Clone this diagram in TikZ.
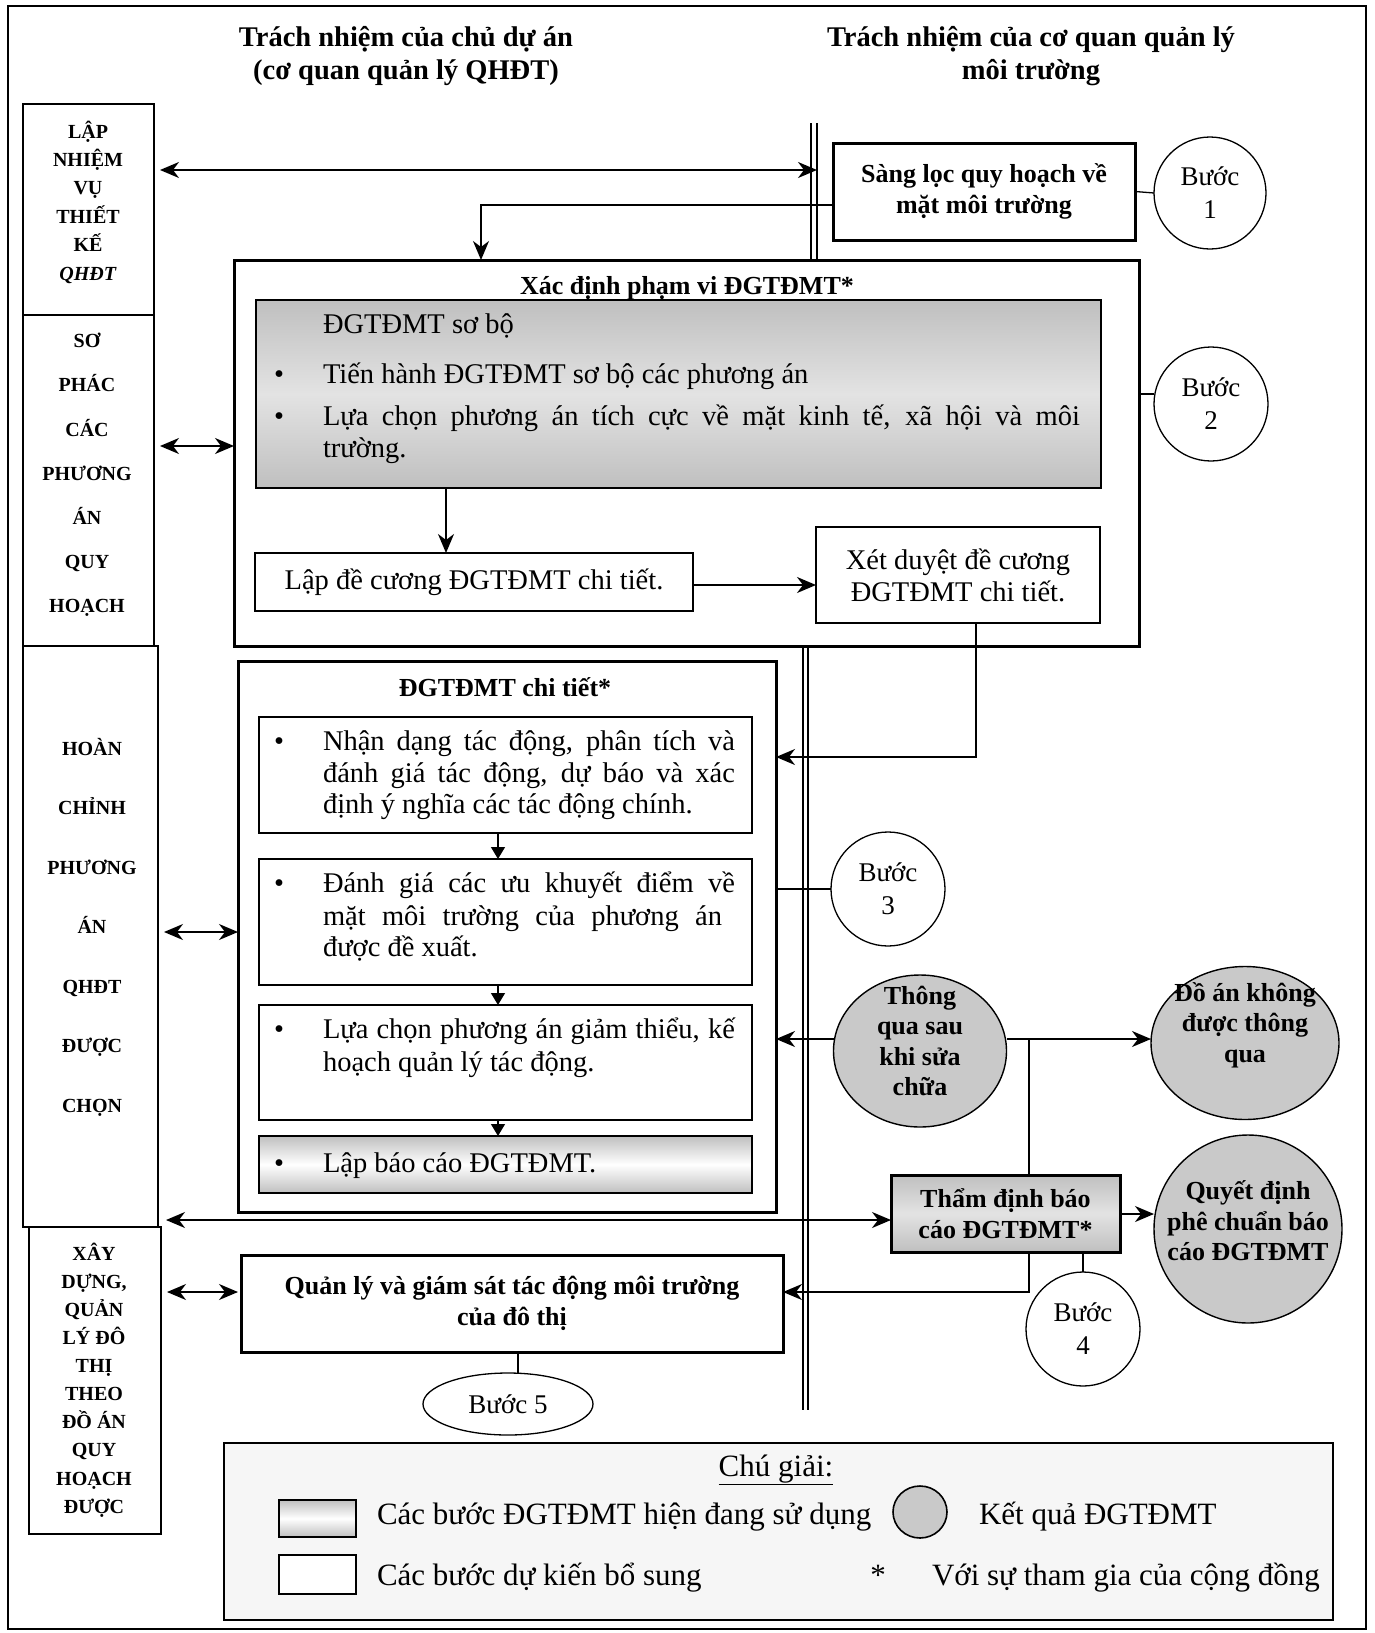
\documentclass[tikz,border=0pt]{standalone}
\usepackage{fontspec}
\setmainfont{Liberation Serif}
\usetikzlibrary{arrows.meta,shapes.geometric,calc}
\newcommand\bodyf{\fontsize{28.5}{32}\selectfont}
\newcommand\boldf{\fontsize{26}{31}\selectfont\bfseries}
\newcommand\hdrf{\fontsize{28.5}{33}\selectfont\bfseries}
\newcommand\stepf{\fontsize{27}{33}\selectfont}
\newcommand\legf{\fontsize{31}{36}\selectfont}
\begin{document}
\begin{tikzpicture}[x=1pt,y=-1pt,
  thinbox/.style={draw, line width=1.4pt, inner sep=0pt, outer sep=0pt},
  thickbox/.style={draw, line width=3pt, inner sep=0pt, outer sep=0pt},
  shadebox/.style={top color=gray!50, bottom color=gray!50, middle color=gray!22},
  lightshade/.style={top color=gray!50, bottom color=gray!50, middle color=white},
  result/.style={ellipse, draw, line width=1.4pt, fill=gray!42, inner sep=0pt, outer sep=0pt},
  stepc/.style={ellipse, draw, line width=1.3pt, inner sep=0pt, outer sep=0pt, align=center, font=\stepf},
  txt/.style={inner sep=0pt, outer sep=0pt},
  ltxt/.style={txt, anchor=base west, font=\bodyf},
  bul/.style={txt, anchor=base, font=\bodyf},
  coltxt/.style={txt, align=center},
  arr/.style={line width=1.7pt, -{Stealth[length=19pt,width=16pt,inset=6pt]}},
  darr/.style={line width=1.7pt, {Stealth[length=19pt,width=16pt,inset=6pt]}-{Stealth[length=19pt,width=16pt,inset=6pt]}},
  sarr/.style={line width=1.3pt, -{Triangle[length=12pt,width=14pt]}},
  conn/.style={line width=1.3pt}
]
\useasboundingbox (0,0) rectangle (1375,1633);
% outer frame
\draw[line width=2.5pt] (8,6) rectangle (1366,1629);

% headers
\node[txt, align=center, font=\hdrf] (hL) at (406,56) {Trách nhiệm của chủ dự án\\(cơ quan quản lý QHĐT)};
\node[txt, align=center, font=\hdrf] (hR) at (1031,56) {Trách nhiệm của cơ quan quản lý\\môi trường};

% left column
\node[thinbox, minimum width=131, minimum height=211] (A) at (88.5,209.5) {};
\node[coltxt, font={\fontsize{20}{28.4}\selectfont\bfseries}] (At) at (88,202) {LẬP\\NHIỆM\\VỤ\\THIẾT\\KẾ\\\textit{QHĐT}};
\node[thinbox, minimum width=131, minimum height=331] (B) at (88.5,480.5) {};
\node[coltxt, font={\fontsize{20}{44.2}\selectfont\bfseries}] (Bt) at (87,475) {SƠ\\PHÁC\\CÁC\\PHƯƠNG\\ÁN\\QUY\\HOẠCH};
\node[thinbox, minimum width=135, minimum height=581] (C) at (90.5,936.5) {};
\node[coltxt, font={\fontsize{20}{59.5}\selectfont\bfseries}] (Ct) at (92,927) {HOÀN\\CHỈNH\\PHƯƠNG\\ÁN\\QHĐT\\ĐƯỢC\\CHỌN};
\node[thinbox, minimum width=132, minimum height=307] (D) at (95,1380.5) {};
\node[coltxt, font={\fontsize{20}{28.1}\selectfont\bfseries}] (Dt) at (94,1380) {XÂY\\DỰNG,\\QUẢN\\LÝ ĐÔ\\THỊ\\THEO\\ĐỒ ÁN\\QUY\\HOẠCH\\ĐƯỢC};

% step 1
\node[thickbox, minimum width=302, minimum height=97, align=center, font=\boldf] (sang) at (984,191.5) {Sàng lọc quy hoạch về\\mặt môi trường};
\node[stepc, minimum width=112, minimum height=112] (b1) at (1210,193) {Bước\\1};
\draw[conn] (sang.east) -- (b1.west);

% Xac dinh box
\node[thickbox, minimum width=905, minimum height=386] (xd) at (686.5,453) {};
\node[txt, anchor=base, font=\boldf] (xdt) at (687,294) {\underline{Xác định phạm vi ĐGTĐMT*}};
\node[thinbox, shadebox, minimum width=845, minimum height=188] (sb) at (678.5,394) {};
\node[ltxt] (sbt) at (323,333) {ĐGTĐMT sơ bộ};
\node[bul] (sbb1) at (279,383) {\textbullet};
\node[ltxt] (sbl1) at (323,383) {Tiến hành ĐGTĐMT sơ bộ các phương án};
\node[bul] (sbb2) at (279,425) {\textbullet};
\node[ltxt] (sbl2) at (323,425) {\makebox[757pt][s]{Lựa chọn phương án tích cực về mặt kinh tế, xã hội và môi}};
\node[ltxt] (sbl3) at (323,457) {trường.};
\node[thinbox, minimum width=438, minimum height=58, font=\bodyf] (lap) at (474,582) {Lập đề cương ĐGTĐMT chi tiết.};
\node[thinbox, minimum width=284, minimum height=96, align=center, font=\bodyf] (xet) at (958,575) {Xét duyệt đề cương\\ĐGTĐMT chi tiết.};
\node[stepc, minimum width=114, minimum height=114] (b2) at (1211,404) {Bước\\2};

% double vertical lines
\coordinate (dlA) at (811,123);
\coordinate (dlB) at (817,123);
\draw[conn] (dlA) -- (dlA |- xd.north);
\draw[conn] (dlB) -- (dlB |- xd.north);
\coordinate (dlC) at (803,1410);
\coordinate (dlD) at (808,1410);
\draw[conn] (dlC |- xd.south) -- (dlC);
\draw[conn] (dlD |- xd.south) -- (dlD);

% connectors top part
\coordinate (r1) at (0,170);
\draw[darr, shorten <=6pt] (A.east |- r1) -- (dlB |- r1);
\coordinate (c0) at (481,205);
\draw[arr] (sang.west |- c0) -| (c0 |- xd.north);
\coordinate (rB) at (0,446);
\draw[darr, shorten <=6pt] (B.east |- rB) -- (xd.west |- rB);
\coordinate (c1) at (446,0);
\draw[arr] (sb.south -| c1) -- (lap.north -| c1);
\coordinate (rL) at (0,585);
\draw[arr] (lap.east |- rL) -- (xet.west |- rL);
\coordinate (r2) at (0,394);
\draw[conn] (xd.east |- r2) -- (b2.west |- r2);

% DGTDMT chi tiet
\node[thickbox, minimum width=538, minimum height=551] (ct) at (507,936.5) {};
\node[txt, anchor=base, font=\boldf] (ctt) at (505,696) {ĐGTĐMT chi tiết*};
\node[thinbox, line width=2pt, minimum width=493, minimum height=116] (n1) at (505.5,775) {};
\node[bul] (n1b) at (279,750) {\textbullet};
\node[ltxt] (n1l1) at (323,750) {\makebox[412pt][s]{Nhận dạng tác động, phân tích và}};
\node[ltxt] (n1l2) at (323,782) {\makebox[412pt][s]{đánh giá tác động, dự báo và xác}};
\node[ltxt] (n1l3) at (323,813) {định ý nghĩa các tác động chính.};
\node[thinbox, line width=2pt, minimum width=493, minimum height=126] (n2) at (505.5,922) {};
\node[bul] (n2b) at (279,892) {\textbullet};
\node[ltxt] (n2l1) at (323,892) {\makebox[412pt][s]{Đánh giá các ưu khuyết điểm về}};
\node[ltxt] (n2l2) at (323,925) {\makebox[399pt][s]{mặt môi trường của phương án}};
\node[ltxt] (n2l3) at (323,956) {được đề xuất.};
\node[thinbox, line width=2pt, minimum width=493, minimum height=115] (n3) at (505.5,1062.5) {};
\node[bul] (n3b) at (279,1038) {\textbullet};
\node[ltxt] (n3l1) at (323,1038) {\makebox[412pt][s]{Lựa chọn phương án giảm thiểu, kế}};
\node[ltxt] (n3l2) at (323,1071) {hoạch quản lý tác động.};
\node[thinbox, line width=2pt, lightshade, minimum width=493, minimum height=57] (n4) at (505.5,1164.5) {};
\node[bul] (n4b) at (279,1172) {\textbullet};
\node[ltxt] (n4l1) at (323,1172) {Lập báo cáo ĐGTĐMT.};
\coordinate (c3) at (498,0);
\draw[sarr] (n1.south -| c3) -- (n2.north -| c3);
\draw[sarr] (n2.south -| c3) -- (n3.north -| c3);
\draw[sarr] (n3.south -| c3) -- (n4.north -| c3);
\coordinate (rC) at (0,932);
\draw[darr, shorten <=6pt] (C.east |- rC) -- (ct.west |- rC);

\coordinate (c2) at (976,0);
\coordinate (r3) at (0,757);
\draw[arr] (xet.south -| c2) |- (ct.east |- r3);

\node[stepc, minimum width=114, minimum height=114] (b3) at (888,889) {Bước\\3};
\draw[conn] (ct.east |- b3) -- (b3.west);

% results
\node[result, minimum width=173, minimum height=152] (tq) at (920,1051) {};
\node[coltxt, font={\fontsize{26}{30.5}\selectfont\bfseries}] (tqt) at (920,1041) {Thông\\qua sau\\khi sửa\\chữa};
\node[result, minimum width=188, minimum height=153] (da) at (1245,1043) {};
\node[coltxt, font={\fontsize{26}{30.5}\selectfont\bfseries}] (dat) at (1245,1025) {Đồ án không\\được thông\\qua};
\coordinate (r4) at (0,1039);
\draw[arr] (tq.west |- r4) -- (ct.east |- r4);
\draw[arr] (tq.east |- r4) -- (da.west |- r4);

\node[thickbox, shadebox, minimum width=229, minimum height=77, align=center, font=\boldf] (th) at (1005.5,1213.5) {Thẩm định báo\\cáo ĐGTĐMT*};
\coordinate (c4) at (1029,0);
\draw[conn] (c4 |- r4) -- (th.north -| c4);
\coordinate (r5) at (0,1220);
\draw[darr, shorten <=8pt] (C.east |- r5) -- (th.west |- r5);

\node[result, minimum width=188, minimum height=188] (qd) at (1248,1229) {};
\node[coltxt, font={\fontsize{26}{30.5}\selectfont\bfseries}] (qdt) at (1248,1221) {Quyết định\\phê chuẩn báo\\cáo ĐGTĐMT};
\coordinate (r6) at (0,1214);
\draw[arr] (th.east |- r6) -- (qd.west |- r6);

% step 4 and 5
\node[thickbox, minimum width=542, minimum height=97, align=center, font=\boldf] (ql) at (512,1303.5) {Quản lý và giám sát tác động môi trường\\của đô thị};
\coordinate (r7) at (0,1292);
\draw[arr] (th.south -| c4) |- (ql.east |- r7);
\draw[darr, shorten <=6pt, shorten >=3pt] (D.east |- r7) -- (ql.west |- r7);
\node[stepc, minimum width=114, minimum height=114] (b4) at (1083,1329) {Bước\\4};
\draw[conn] (th.south -| b4) -- (b4.north);
\node[stepc, minimum width=170, minimum height=62] (b5) at (508,1404) {Bước 5};
\coordinate (c6) at (518,0);
\draw[conn] (ql.south -| c6) -- (b5.north -| c6);

% legend
\node[thinbox, line width=1.6pt, fill=gray!7, minimum width=1109, minimum height=177] (lg) at (778.5,1531.5) {};
\node[txt, anchor=base, font=\legf] (lgt) at (776,1476) {\underline{Chú giải:}};
\node[thinbox, line width=2pt, lightshade, minimum width=77, minimum height=37] (lr1) at (317.5,1518.5) {};
\node[txt, anchor=base west, font=\legf] (lr1t) at (377,1524) {Các bước ĐGTĐMT hiện đang sử dụng};
\node[result, line width=1.6pt, minimum width=54, minimum height=52] (lc) at (920,1512) {};
\node[txt, anchor=base west, font=\legf] (lct) at (979,1524) {Kết quả ĐGTĐMT};
\node[thinbox, line width=2pt, fill=white, minimum width=77, minimum height=39] (lr2) at (317.5,1574.5) {};
\node[txt, anchor=base west, font=\legf] (lr2t) at (377,1585) {Các bước dự kiến bổ sung};
\node[txt, anchor=base, font=\legf] (ast) at (878,1585) {*};
\node[txt, anchor=base west, font=\legf] (astt) at (932,1585) {Với sự tham gia của cộng đồng};
\end{tikzpicture}
\end{document}
